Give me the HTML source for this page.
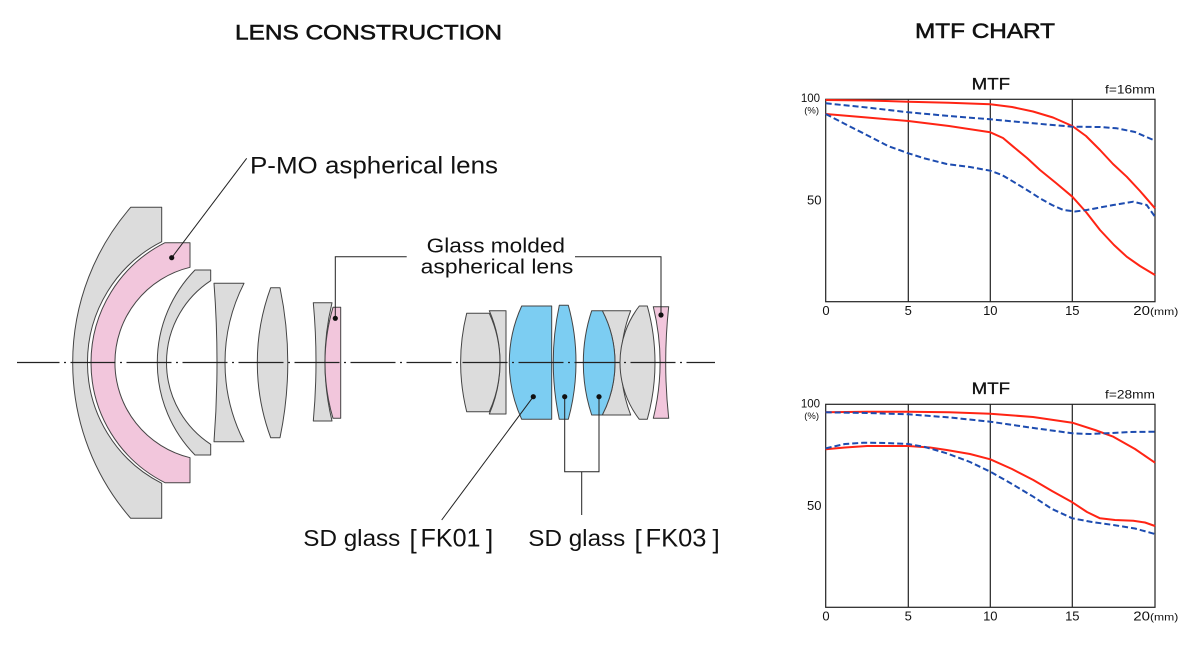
<!DOCTYPE html>
<html>
<head>
<meta charset="utf-8">
<style>
  html,body{margin:0;padding:0;background:#fff;}
  body{width:1200px;height:649px;overflow:hidden;}
  svg{display:block;}
  text{font-family:"Liberation Sans", Arial, sans-serif;fill:#111;}
</style>
</head>
<body>
<svg width="1200" height="649" viewBox="0 0 1200 649" xmlns="http://www.w3.org/2000/svg">
  <!-- Titles -->
  <text x="235" y="39.5" font-size="21" textLength="267" lengthAdjust="spacingAndGlyphs" stroke="#111" stroke-width="0.55">LENS CONSTRUCTION</text>
  <text x="915" y="38" font-size="21" textLength="140" lengthAdjust="spacingAndGlyphs" stroke="#111" stroke-width="0.55">MTF CHART</text>

  <!-- Lens elements -->
  <g stroke="#444" stroke-width="1" stroke-linejoin="round">
    <path fill="#dcdcdc" d="M130.7,207.3 L161.7,207.3 L161.7,241.7 A135.4,135.4 0 0 0 161.7,483.3 L161.7,518.3 L130.7,518.3 A237.4,237.4 0 0 1 130.7,207.3 Z"/>
    <path fill="#f2c6dc" d="M165,242.7 L190,242.7 L190,267.3 A97.9,97.9 0 0 0 190,457.7 L190,482.7 L165,482.7 A134.3,134.3 0 0 1 165,242.7 Z"/>
    <path fill="#dcdcdc" d="M195,270 L210.7,270 L210.7,280.7 A97.8,97.8 0 0 0 210.7,444.3 L210.7,455 L195,455 A132.3,132.3 0 0 1 195,270 Z"/>
    <path fill="#dcdcdc" d="M214,283.3 L244,283.3 A174.6,174.6 0 0 0 244,441.7 L214,441.7 A1047,1047 0 0 0 214,283.3 Z"/>
    <path fill="#dcdcdc" d="M270.7,287.7 L280,287.7 A369,369 0 0 1 280,437.7 L270.7,437.7 A216.6,216.6 0 0 1 270.7,287.7 Z"/>
    <path fill="#dcdcdc" d="M313.3,302.7 L332,302.7 A253.8,253.8 0 0 0 332,421 L313.3,421 A650,650 0 0 0 313.3,302.7 Z"/>
    <path fill="#f2c6dc" d="M333,307.3 L340.7,307.3 L340.7,418.3 L333,418.3 A196.5,196.5 0 0 1 333,307.3 Z"/>

    <path fill="#dcdcdc" d="M489.3,310.7 L506,310.7 L506,414 L489.3,414 A130,130 0 0 0 489.3,310.7 Z"/>
    <path fill="#dcdcdc" d="M466.7,313.3 L489.3,313.3 A118.5,118.5 0 0 1 489.3,411.7 L466.7,411.7 A204.7,204.7 0 0 1 466.7,313.3 Z"/>
    <path fill="#7ccdf2" d="M521.7,306 L551.7,306 L551.7,419.3 L521.7,419.3 A135.6,135.6 0 0 1 521.7,306 Z"/>
    <path fill="#7ccdf2" d="M559.3,305.3 L568.3,305.3 A214.8,214.8 0 0 1 568.3,419.3 L559.3,419.3 A273.75,273.75 0 0 1 559.3,305.3 Z"/>
    <path fill="#dcdcdc" d="M602.3,310.7 L630.7,310.7 A145,145 0 0 0 630.7,415 L602.3,415 A113.4,113.4 0 0 0 602.3,310.7 Z"/>
    <path fill="#7ccdf2" d="M591.7,310.7 L602.3,310.7 A113.4,113.4 0 0 1 602.3,415 L591.7,415 A166.1,166.1 0 0 1 591.7,310.7 Z"/>
    <path fill="#dcdcdc" d="M639.3,306 L647.3,306 A212.2,212.2 0 0 1 647.3,419.3 L639.3,419.3 A92.8,92.8 0 0 1 639.3,306 Z"/>
    <path fill="#f2c6dc" d="M653.3,306.7 L668.7,306.7 A520.5,520.5 0 0 0 668.7,418.3 L653.3,418.3 A235.7,235.7 0 0 0 653.3,306.7 Z"/>
  </g>

  <!-- Optical axis -->
  <line x1="17" y1="362.5" x2="715" y2="362.5" stroke="#222" stroke-width="1.2" stroke-dasharray="45 4.5 2 4.5" stroke-dashoffset="2.5"/>

  <!-- Callout lines -->
  <g stroke="#222" stroke-width="1" fill="none">
    <line x1="171.7" y1="257.7" x2="246.7" y2="158.3"/>
    <polyline points="335.3,318.3 335.3,256.7 406.7,256.7"/>
    <polyline points="575,256.7 661,256.7 661,315"/>
    <line x1="533.3" y1="396.7" x2="441.7" y2="520"/>
    <polyline points="564.7,396.7 564.7,471.7 599,471.7 599,396.7"/>
    <line x1="581.7" y1="471.7" x2="581.7" y2="515"/>
  </g>
  <g fill="#111">
    <circle cx="171.7" cy="257.7" r="2.6"/>
    <circle cx="335.3" cy="318.3" r="2.6"/>
    <circle cx="661" cy="315" r="2.6"/>
    <circle cx="533.3" cy="396.7" r="2.6"/>
    <circle cx="564.7" cy="396.7" r="2.6"/>
    <circle cx="599" cy="396.7" r="2.6"/>
  </g>

  <!-- Lens labels -->
  <text x="250" y="173.3" font-size="24" textLength="248" lengthAdjust="spacingAndGlyphs">P-MO aspherical lens</text>
  <text x="426.7" y="252.7" font-size="20.5" textLength="138.3" lengthAdjust="spacingAndGlyphs">Glass molded</text>
  <text x="420.7" y="273.3" font-size="20.5" textLength="152.6" lengthAdjust="spacingAndGlyphs">aspherical lens</text>

  <text x="303.3" y="546" font-size="23" textLength="97" lengthAdjust="spacingAndGlyphs">SD glass</text>
  <text x="409.5" y="548" font-size="26">[</text>
  <text x="420.5" y="546.5" font-size="25" textLength="60" lengthAdjust="spacingAndGlyphs">FK01</text>
  <text x="486" y="548" font-size="26">]</text>

  <text x="528.3" y="546" font-size="23" textLength="97" lengthAdjust="spacingAndGlyphs">SD glass</text>
  <text x="634.5" y="548" font-size="26">[</text>
  <text x="645.5" y="546.5" font-size="25" textLength="61" lengthAdjust="spacingAndGlyphs">FK03</text>
  <text x="712.5" y="548" font-size="26">]</text>

  <!-- ===== MTF chart 1 ===== -->
  <text x="971.7" y="89.3" font-size="17" textLength="38.3" lengthAdjust="spacingAndGlyphs" stroke="#111" stroke-width="0.35">MTF</text>
  <text x="1105" y="93.3" font-size="12" textLength="50" lengthAdjust="spacingAndGlyphs">f=16mm</text>
  <text x="820" y="102" font-size="11.5" text-anchor="end">100</text>
  <text x="819" y="113.3" font-size="9.5" text-anchor="end">(%)</text>
  <text x="821.5" y="204.5" font-size="13" text-anchor="end">50</text>
  <g font-size="13" text-anchor="middle">
    <text x="826" y="315">0</text>
    <text x="908.3" y="315">5</text>
    <text x="990.3" y="315">10</text>
    <text x="1072.3" y="315">15</text>
  </g>
  <text x="1133.3" y="315" font-size="13" textLength="45" lengthAdjust="spacingAndGlyphs">20<tspan font-size="10.5">(mm)</tspan></text>

  <g stroke="#222" stroke-width="1.2" fill="none">
    <rect x="825.7" y="99.3" width="329.3" height="202.4"/>
    <line x1="908.3" y1="99.3" x2="908.3" y2="301.7"/>
    <line x1="990.3" y1="99.3" x2="990.3" y2="301.7"/>
    <line x1="1072.3" y1="99.3" x2="1072.3" y2="301.7"/>
  </g>
  <g fill="none" stroke-width="2" stroke-linejoin="round" stroke-linecap="butt">
    <polyline stroke="#ff2414" points="825.7,100 867,100.5 908.3,101.7 949,102.8 990.3,104.3 1012,107 1033,111.5 1053,117.5 1072.3,126 1086,136 1100,150 1113,164 1126.7,176.7 1140,191 1155,208.3"/>
    <polyline stroke="#ff2414" points="825.7,114 867,117.5 908.3,121 949,126 990.3,132.3 1003,138 1013.3,146.7 1027,158 1040,170 1056,183 1072.3,196.7 1086,212 1100,230 1114,245 1126.7,256.7 1140,266 1155,275"/>
    <polyline stroke="#1d4cb0" stroke-dasharray="6 3" points="825.7,103.3 867,107.5 908.3,112.3 949,116 990.3,119.3 1030,123 1072.3,126.7 1100,127 1116.7,128.3 1135,132 1155,140.7"/>
    <polyline stroke="#1d4cb0" stroke-dasharray="6 3" points="825.7,114 845,124 866.7,135 888,146 908.3,153.3 925,158.5 946.7,164 970,167 990.3,170.7 1002,175 1013.3,181.7 1027,190 1040,198.3 1052,205 1063.3,210 1075,211.5 1086.7,210 1100,207.5 1113.3,205 1133.3,201.7 1146.7,205 1155,216.7"/>
  </g>

  <!-- ===== MTF chart 2 ===== -->
  <text x="971.7" y="394" font-size="17" textLength="38.3" lengthAdjust="spacingAndGlyphs" stroke="#111" stroke-width="0.35">MTF</text>
  <text x="1105" y="398.3" font-size="12" textLength="50" lengthAdjust="spacingAndGlyphs">f=28mm</text>
  <text x="820" y="407.5" font-size="11.5" text-anchor="end">100</text>
  <text x="819" y="419" font-size="9.5" text-anchor="end">(%)</text>
  <text x="821.5" y="509.8" font-size="13" text-anchor="end">50</text>
  <g font-size="13" text-anchor="middle">
    <text x="826" y="620.7">0</text>
    <text x="908.3" y="620.7">5</text>
    <text x="990.3" y="620.7">10</text>
    <text x="1072.3" y="620.7">15</text>
  </g>
  <text x="1133.3" y="620.7" font-size="13" textLength="45" lengthAdjust="spacingAndGlyphs">20<tspan font-size="10.5">(mm)</tspan></text>

  <g stroke="#222" stroke-width="1.2" fill="none">
    <rect x="825.7" y="404.3" width="329.3" height="203"/>
    <line x1="908.3" y1="404.3" x2="908.3" y2="607.3"/>
    <line x1="990.3" y1="404.3" x2="990.3" y2="607.3"/>
    <line x1="1072.3" y1="404.3" x2="1072.3" y2="607.3"/>
  </g>
  <g fill="none" stroke-width="2" stroke-linejoin="round">
    <polyline stroke="#ff2414" points="825.7,412.3 867,411.7 908.3,411.7 949,412.3 990.3,413.7 1033,417 1072.3,422.7 1095,430 1113.3,436.7 1135,449 1155,462.7"/>
    <polyline stroke="#1d4cb0" stroke-dasharray="6 3" points="825.7,412.3 867,413 908.3,414.3 950,417.5 990.3,421.7 1030,427.5 1072.3,433.3 1090,434 1106.7,433.3 1130,432 1155,431.7"/>
    <polyline stroke="#ff2414" points="825.7,449.3 845,447.5 867,446 908.3,446 930,447.5 946.7,450 970,454 990.3,459.3 1012,469 1033.3,480 1052,491 1072.3,502.3 1087,512 1100,518.3 1115,520 1133.3,520.7 1145,522.5 1155,526"/>
    <polyline stroke="#1d4cb0" stroke-dasharray="6 3" points="825.7,448.3 845,444 863.3,442.7 885,443 908.3,444 925,447 946.7,453.3 970,462 990.3,471.7 1012,484 1033.3,496.7 1052,509 1072.3,518.3 1092,522 1113.3,525 1135,528.5 1155,534"/>
  </g>
</svg>
</body>
</html>
